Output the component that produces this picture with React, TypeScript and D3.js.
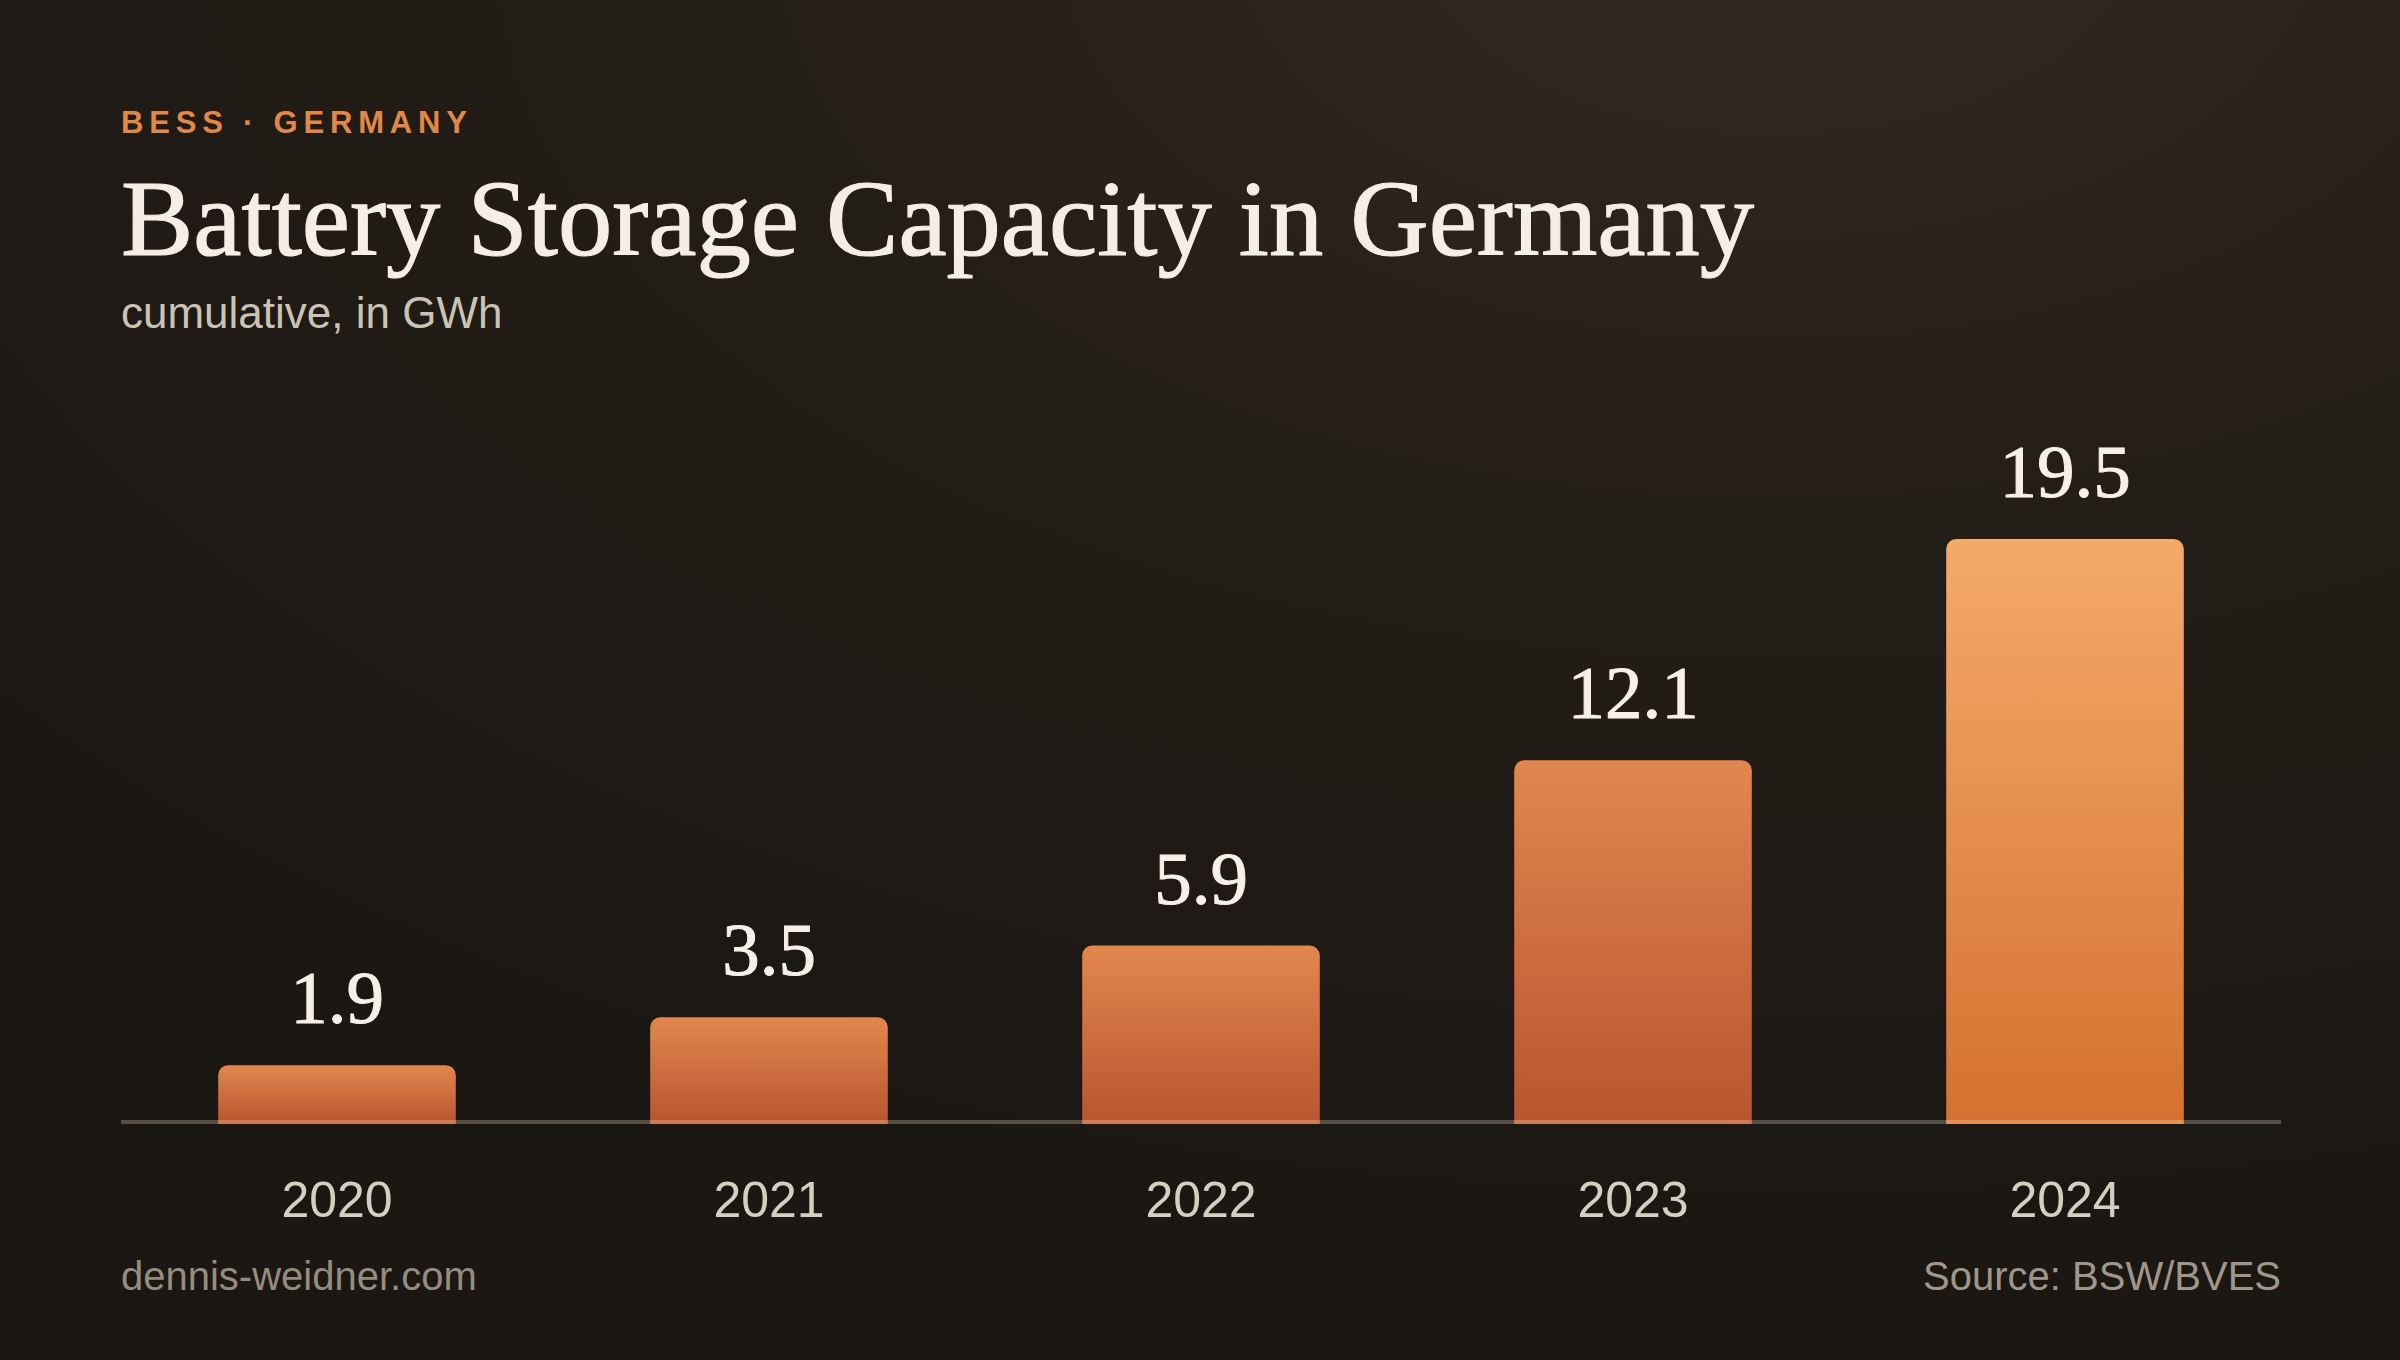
import { useEffect } from "react";
import * as d3 from "d3";

// data
const years = ["2020", "2021", "2022", "2023", "2024"];
const capacityGWh = [1.9, 3.5, 5.9, 12.1, 19.5];
const highlightYear = "2024";

const eyebrow = "BESS · GERMANY";
const title = "Battery Storage Capacity in Germany";
const subtitle = "cumulative, in GWh";
const credit = "dennis-weidner.com";
const source = "Source: BSW/BVES";

const W = 2400;
const H = 1360;
const margin = { left: 121, right: 119, baseline: 1122 };

const SANS = "'Liberation Sans', Arial, Helvetica, sans-serif";
const SERIF = "'Liberation Serif', 'Times New Roman', serif";

// bar with rounded top corners only
function topRoundedBar(x: number, y: number, w: number, h: number, r: number) {
  const rr = Math.min(r, h, w / 2);
  const p = d3.path();
  p.moveTo(x, y + h);
  p.lineTo(x, y + rr);
  p.arcTo(x, y, x + rr, y, rr);
  p.lineTo(x + w - rr, y);
  p.arcTo(x + w, y, x + w, y + rr, rr);
  p.lineTo(x + w, y + h);
  p.closePath();
  return p.toString();
}

export default function App() {
  useEffect(() => {
    document.body.style.margin = "0";
    document.body.style.overflow = "hidden";
  }, []);

  const x = d3
    .scaleBand<string>()
    .domain(years)
    .range([margin.left, W - margin.right])
    .paddingInner(0.45)
    .paddingOuter(0.225);

  const y = d3.scaleLinear().domain([0, 20]).range([margin.baseline, 524]);

  const rows = years.map((year, i) => ({ year, value: capacityGWh[i] }));

  return (
    <svg width={W} height={H} viewBox={`0 0 ${W} ${H}`} style={{ display: "block" }}>
      <defs>
        <radialGradient id="bg" cx="0.74" cy="-0.05" r="0.95">
          <stop offset="0" stopColor="#34291f" />
          <stop offset="0.45" stopColor="#241e18" />
          <stop offset="1" stopColor="#1b1712" />
        </radialGradient>
        <linearGradient id="bar" x1="0" y1="0" x2="0" y2="1">
          <stop offset="0" stopColor="#e2864f" />
          <stop offset="1" stopColor="#b8552f" />
        </linearGradient>
        <linearGradient id="barHi" x1="0" y1="0" x2="0" y2="1">
          <stop offset="0" stopColor="#f4aa6b" />
          <stop offset="1" stopColor="#d5712f" />
        </linearGradient>
      </defs>

      <rect width={W} height={H} fill="url(#bg)" />

      {/* header */}
      <text
        x={margin.left}
        y={133}
        fontFamily={SANS}
        fontWeight={700}
        fontSize={31}
        letterSpacing={5.8}
        fill="#e0874a"
      >
        {eyebrow}
      </text>
      <text
        x={margin.left}
        y={255}
        fontFamily={SERIF}
        fontSize={108.5}
        fill="#f4eee6"
        stroke="#f4eee6"
        strokeWidth={1.2}
      >
        {title}
      </text>
      <text x={margin.left} y={328} fontFamily={SANS} fontSize={44} fill="#cbc3b6">
        {subtitle}
      </text>

      {/* bars */}
      <g>
        {rows.map((d) => (
          <path
            key={d.year}
            d={topRoundedBar(
              x(d.year)!,
              y(d.value),
              x.bandwidth(),
              y(0) - y(d.value) + 2,
              10,
            )}
            fill={d.year === highlightYear ? "url(#barHi)" : "url(#bar)"}
          />
        ))}
      </g>

      {/* baseline */}
      <line
        x1={margin.left}
        x2={W - margin.right}
        y1={y(0)}
        y2={y(0)}
        stroke="#fff0dc"
        strokeOpacity={0.26}
        strokeWidth={4}
      />

      {/* value labels */}
      <g fontFamily={SERIF} fontSize={75} fill="#f6f0e8" textAnchor="middle">
        {rows.map((d) => (
          <text
            key={d.year}
            x={x(d.year)! + x.bandwidth() / 2}
            y={y(d.value) - 42}
            stroke="#f6f0e8"
            strokeWidth={1}
          >
            {d.value.toFixed(1)}
          </text>
        ))}
      </g>

      {/* year labels */}
      <g fontFamily={SANS} fontSize={50} fill="#d5cec3" textAnchor="middle">
        {rows.map((d) => (
          <text key={d.year} x={x(d.year)! + x.bandwidth() / 2} y={1217}>
            {d.year}
          </text>
        ))}
      </g>

      {/* footer */}
      <text x={margin.left} y={1290} fontFamily={SANS} fontSize={40} fill="#968c7f">
        {credit}
      </text>
      <text
        x={W - margin.right}
        y={1290}
        fontFamily={SANS}
        fontSize={40}
        fill="#a0968a"
        textAnchor="end"
      >
        {source}
      </text>
    </svg>
  );
}
